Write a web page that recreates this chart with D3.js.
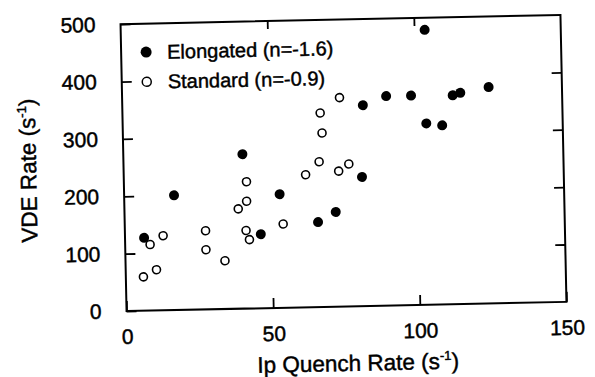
<!DOCTYPE html>
<html>
<head>
<meta charset="utf-8">
<script src="https://cdn.jsdelivr.net/npm/d3@7"></script>
<style>
  body { margin: 0; background: #fff; }
  text { font-family: "Liberation Sans", Arial, sans-serif; fill: #000; stroke: #000; stroke-width: 0.45px; }
</style>
</head>
<body>
<div id="chart"></div>
<script>
// Ip quench rate (s^-1) vs VDE rate (s^-1)
var elongatedX = [6.5, 17, 40.6, 46.3, 53, 65.9, 72, 81.2, 82, 90, 98.5, 103.6, 103.5, 108.9, 112.7, 115.3, 125];
var elongatedY = [127, 200, 269, 129, 198, 148, 165, 225, 350, 365, 365, 479, 316, 312, 364, 368, 377];
var standardX = [6, 8.5, 10.5, 13, 27.5, 27.5, 33.9, 38.8, 41.7, 41.8, 41.3, 42.4, 54, 62, 66.7, 73.3, 76.8, 74.1, 67.4, 67.9];
var standardY = [59, 115, 71, 130, 137, 104, 84, 174, 187, 221, 136, 120, 146, 231, 253, 236, 248, 364, 338, 303];
var xTicks = [0, 50, 100, 150];
var yTicks = [0, 100, 200, 300, 400, 500];
var legendLabels = ["Elongated (n=-1.6)", "Standard (n=-0.9)"];

var width = 595, height = 377;
var plotLeft = 123.5, plotRight = 563.5, plotTop = 19.5, plotBottom = 306.5;

var svg = d3.select("#chart").append("svg")
    .attr("width", width)
    .attr("height", height);

// the scanned figure sits slightly tilted
var g = svg.append("g")
    .attr("transform", "rotate(-1.2, 344, 163)");

var x = d3.scaleLinear().domain([0, 150]).range([plotLeft, plotRight]);
var y = d3.scaleLinear().domain([0, 500]).range([plotBottom, plotTop]);

var tickLen = 10;

// frame
g.append("rect")
    .attr("x", plotLeft)
    .attr("y", plotTop)
    .attr("width", plotRight - plotLeft)
    .attr("height", plotBottom - plotTop)
    .attr("fill", "none")
    .attr("stroke", "#000")
    .attr("stroke-width", 2);

// bottom axis, ticks pointing in
var xAxis = g.append("g")
    .attr("transform", "translate(0," + plotBottom + ")")
    .call(d3.axisBottom(x).tickValues(xTicks).tickSizeInner(-tickLen).tickSizeOuter(0).tickPadding(tickLen + 8));
xAxis.select(".domain").remove();
xAxis.selectAll("line").attr("stroke-width", 1.8);
xAxis.selectAll("text").style("font-size", "21px").attr("font-family", null);

// top ticks
var xTop = g.append("g")
    .attr("transform", "translate(0," + plotTop + ")")
    .call(d3.axisTop(x).tickValues([50, 100]).tickSizeInner(-8).tickSizeOuter(0).tickFormat(""));
xTop.select(".domain").remove();
xTop.selectAll("line").attr("stroke-width", 1.8);

// left axis
var yAxis = g.append("g")
    .attr("transform", "translate(" + plotLeft + ",0)")
    .call(d3.axisLeft(y).tickValues(yTicks).tickSizeInner(-tickLen).tickSizeOuter(0).tickPadding(tickLen + 15));
yAxis.select(".domain").remove();
yAxis.selectAll("line").attr("stroke-width", 1.8);
yAxis.selectAll("text").style("font-size", "21px").attr("font-family", null);

// right ticks
var yRight = g.append("g")
    .attr("transform", "translate(" + plotRight + ",0)")
    .call(d3.axisRight(y).tickValues([100, 200, 300, 400]).tickSizeInner(-tickLen).tickSizeOuter(0).tickFormat(""));
yRight.select(".domain").remove();
yRight.selectAll("line").attr("stroke-width", 1.8);

// elongated: filled dots
g.selectAll(".elong")
    .data(elongatedX)
    .enter().append("circle")
    .attr("class", "elong")
    .attr("cx", function (d) { return x(d); })
    .attr("cy", function (d, i) { return y(elongatedY[i]); })
    .attr("r", 5)
    .attr("fill", "#000");

// standard: open circles
g.selectAll(".std")
    .data(standardX)
    .enter().append("circle")
    .attr("class", "std")
    .attr("cx", function (d) { return x(d); })
    .attr("cy", function (d, i) { return y(standardY[i]); })
    .attr("r", 4)
    .attr("fill", "#fff")
    .attr("stroke", "#000")
    .attr("stroke-width", 1.6);

// legend
var legend = g.selectAll(".legend")
    .data(legendLabels)
    .enter().append("g")
    .attr("class", "legend")
    .attr("transform", function (d, i) {
        return "translate(" + (plotLeft + 25) + "," + (plotTop + 28.5 + i * 29.7) + ")";
    });

legend.append("circle")
    .attr("r", function (d, i) { return i === 0 ? 5.5 : 4.5; })
    .attr("fill", function (d, i) { return i === 0 ? "#000" : "#fff"; })
    .attr("stroke", "#000")
    .attr("stroke-width", function (d, i) { return i === 0 ? 0 : 1.5; });

legend.append("text")
    .attr("x", 21)
    .attr("y", 7)
    .style("font-size", "20px")
    .text(function (d) { return d; });

// axis titles
var xTitle = g.append("text")
    .attr("x", 354)
    .attr("y", 371)
    .attr("text-anchor", "middle")
    .style("font-size", "22.5px");
xTitle.append("tspan").text("Ip Quench Rate (s");
xTitle.append("tspan").attr("dy", -9).style("font-size", "13px").text("-1");
xTitle.append("tspan").attr("dy", 9).text(")");

var yTitle = g.append("text")
    .attr("transform", "translate(36,164) rotate(-90)")
    .attr("text-anchor", "middle")
    .style("font-size", "22.5px");
yTitle.append("tspan").text("VDE Rate  (s");
yTitle.append("tspan").attr("dy", -9).style("font-size", "13px").text("-1");
yTitle.append("tspan").attr("dy", 9).text(")");
</script>
</body>
</html>
